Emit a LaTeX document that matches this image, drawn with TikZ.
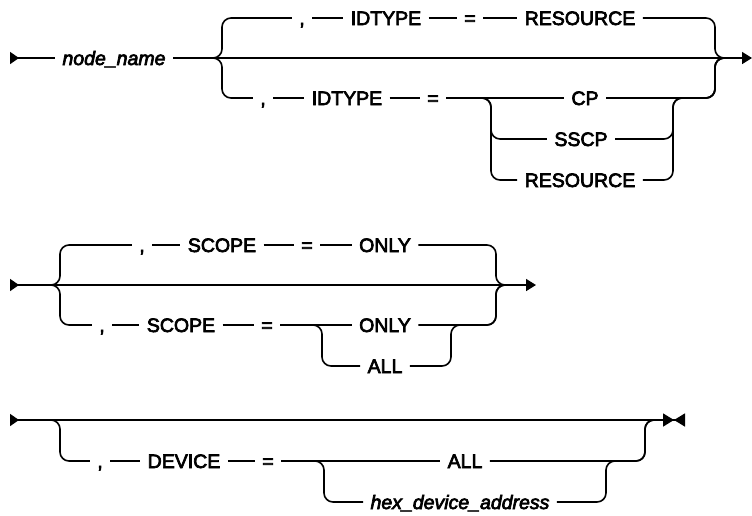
\documentclass[tikz,border=0pt]{standalone}
\usepackage{fontspec}
\setmainfont{Liberation Sans}[UprightFeatures={FakeBold=3.5},ItalicFeatures={FakeBold=3.5}]
\usetikzlibrary{arrows.meta}

\begin{document}
\begin{tikzpicture}[x=1pt,y=-1pt,
  every node/.style={font=\fontsize{19.5pt}{22pt}\selectfont},
  kw/.style={inner xsep=7.5pt,inner ysep=0pt,outer sep=0pt,text height=14pt,text depth=0pt},
  var/.style={kw,font=\fontsize{19.5pt}{22pt}\selectfont\itshape},
  rail/.style={line width=1.6pt},
  br/.style={line width=1.6pt,rounded corners=9pt},
  railin/.style={rail,arrows={Triangle[reversed,length=9pt,width=12pt]-}},
  railout/.style={rail,arrows={-Triangle[length=10pt,width=12pt]}},
  railinout/.style={rail,arrows={Triangle[reversed,length=9pt,width=12pt]-Triangle[length=10pt,width=12pt]}},
  railinstop/.style={rail,arrows={Triangle[reversed,length=9pt,width=12pt]-Triangle[length=11pt,width=13pt]Triangle[reversed,length=11pt,width=13pt]}}
]
\useasboundingbox (0,0) rectangle (752,515);

% row 1: node_name with IDTYPE
\coordinate (r1s) at (10,58);
\coordinate (r1e) at (752,58);
\coordinate (r1j) at (730,58);
\coordinate (b1l) at (222,58);
\coordinate (b1r) at (715,58);
\coordinate (g1l) at (491,98);
\coordinate (g1r) at (673,98);
\node[var] (nname) at (114,58) {node\_name};
\node[kw] (c1a) at (302,18) {,};
\node[kw] (id1a) at (386,18) {IDTYPE};
\node[kw] (eq1a) at (470,18) {=};
\node[kw] (res1a) at (580,18) {RESOURCE};
\node[kw] (c1b) at (263,98) {,};
\node[kw] (id1b) at (347,98) {IDTYPE};
\node[kw] (eq1b) at (433,98) {=};
\node[kw] (cp) at (585,98) {CP};
\node[kw] (sscp) at (581,139) {SSCP};
\node[kw] (res1b) at (580,180) {RESOURCE};

\draw[railin] (r1s) -- (nname);
\draw[railout] (nname) -- (r1e);
\draw[br] (nname) -- (b1l) |- (c1a);
\draw[rail] (c1a) -- (id1a) -- (eq1a) -- (res1a);
\draw[br] (res1a) -| (b1r) -- (r1j);
\draw[br] (nname) -- (b1l) |- (c1b);
\draw[rail] (c1b) -- (id1b) -- (eq1b) -- (cp);
\draw[br] (cp) -| (b1r) -- (r1j);
\draw[br] (eq1b) -- (g1l) |- (sscp);
\draw[br] (eq1b) -- (g1l) |- (res1b);
\draw[br] (sscp) -| (g1r) -| (b1r) -- (r1j);
\draw[br] (res1b) -| (g1r) -| (b1r) -- (r1j);

% row 2: SCOPE
\coordinate (r2s) at (10,285);
\coordinate (r2e) at (536,285);
\coordinate (r2k) at (35,285);
\coordinate (r2j) at (515,285);
\coordinate (b2l) at (60,285);
\coordinate (b2r) at (496,285);
\coordinate (g2l) at (322,325);
\coordinate (g2r) at (451,325);
\node[kw] (c2a) at (142,245) {,};
\node[kw] (sc2a) at (222,245) {SCOPE};
\node[kw] (eq2a) at (307,245) {=};
\node[kw] (on2a) at (385,245) {ONLY};
\node[kw] (c2b) at (102,325) {,};
\node[kw] (sc2b) at (181,325) {SCOPE};
\node[kw] (eq2b) at (267,325) {=};
\node[kw] (on2b) at (385,325) {ONLY};
\node[kw] (all2) at (385,366) {ALL};

\draw[railinout] (r2s) -- (r2e);
\draw[br] (r2k) -- (b2l) |- (c2a);
\draw[rail] (c2a) -- (sc2a) -- (eq2a) -- (on2a);
\draw[br] (on2a) -| (b2r) -- (r2j);
\draw[br] (r2k) -- (b2l) |- (c2b);
\draw[rail] (c2b) -- (sc2b) -- (eq2b) -- (on2b);
\draw[br] (on2b) -| (b2r) -- (r2j);
\draw[br] (eq2b) -- (g2l) |- (all2);
\draw[br] (all2) -| (g2r) -| (b2r) -- (r2j);

% row 3: DEVICE
\coordinate (r3s) at (10,420);
\coordinate (r3e) at (685,420);
\coordinate (r3k) at (35,420);
\coordinate (r3j) at (660,420);
\coordinate (b3l) at (60,420);
\coordinate (b3r) at (645,420);
\coordinate (g3l) at (324,461);
\coordinate (g3r) at (606,461);
\node[kw] (c3) at (100,461) {,};
\node[kw] (dev) at (184,461) {DEVICE};
\node[kw] (eq3) at (268,461) {=};
\node[kw] (all3) at (465,461) {ALL};
\node[var] (hex) at (460,502) {hex\_device\_address};

\draw[railinstop] (r3s) -- (r3e);
\draw[br] (r3k) -- (b3l) |- (c3);
\draw[rail] (c3) -- (dev) -- (eq3) -- (all3);
\draw[br] (all3) -| (b3r) -- (r3j);
\draw[br] (eq3) -- (g3l) |- (hex);
\draw[br] (hex) -| (g3r) -| (b3r) -- (r3j);
\end{tikzpicture}
\end{document}
